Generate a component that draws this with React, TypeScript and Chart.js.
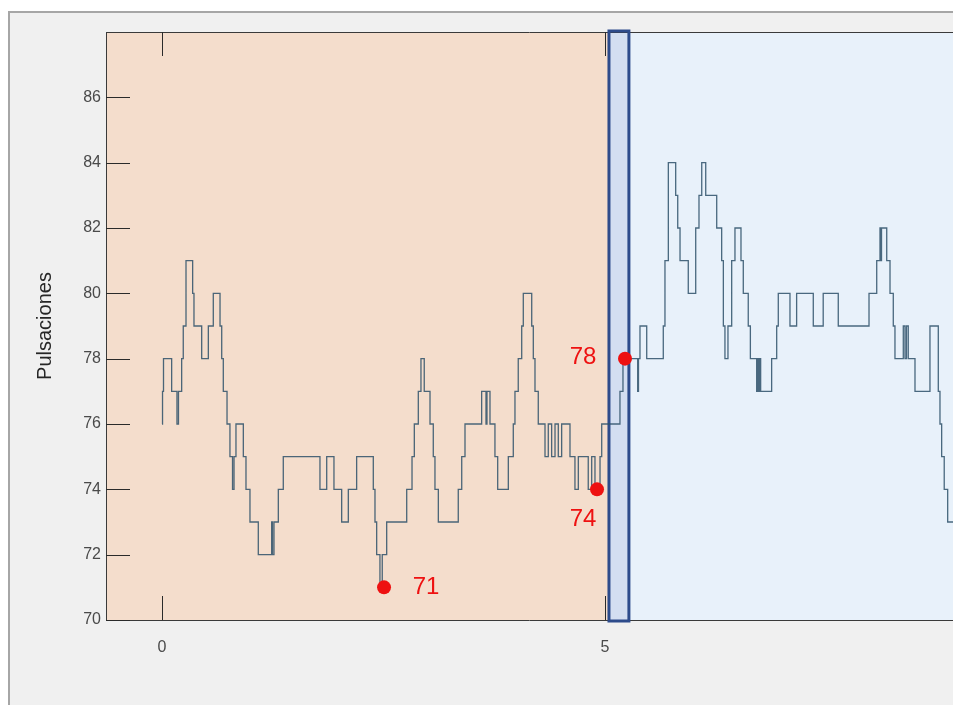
import React, { useEffect, useRef } from "react";
import { Chart, registerables } from "chart.js";

Chart.register(...registerables);

// Time (s) at which each new heart-rate level starts, and that level (bpm)
const stepTimes = [
  0, 0.006, 0.017, 0.109, 0.169, 0.186, 0.222, 0.24, 0.271, 0.346, 0.361, 0.448, 0.523, 0.579,
  0.655, 0.674, 0.692, 0.734, 0.767, 0.796, 0.813, 0.835, 0.918, 0.948, 0.993, 1.087, 1.238,
  1.247, 1.264, 1.313, 1.369, 1.783, 1.859, 1.941, 2.028, 2.103, 2.197, 2.385, 2.404, 2.423,
  2.46, 2.486, 2.536, 2.762, 2.822, 2.848, 2.893, 2.923, 2.96, 3.025, 3.062, 3.081, 3.119,
  3.344, 3.383, 3.42, 3.608, 3.657, 3.668, 3.702, 3.758, 3.789, 3.909, 3.965, 3.984, 4.021,
  4.06, 4.078, 4.173, 4.191, 4.21, 4.247, 4.323, 4.36, 4.398, 4.436, 4.473, 4.511, 4.605,
  4.661, 4.699, 4.811, 4.85, 4.887, 4.944, 4.963, 5.169, 5.203, 5.369, 5.378, 5.395, 5.471,
  5.658, 5.677, 5.715, 5.798, 5.821, 5.847, 5.94, 6.024, 6.061, 6.092, 6.137, 6.261, 6.317,
  6.336, 6.354, 6.388, 6.43, 6.467, 6.535, 6.561, 6.617, 6.641, 6.712, 6.723, 6.734, 6.745,
  6.757, 6.881, 6.938, 6.956, 7.088, 7.163, 7.351, 7.463, 7.633, 7.98, 8.067, 8.104, 8.112,
  8.121, 8.18, 8.217, 8.254, 8.273, 8.367, 8.386, 8.403, 8.423, 8.499, 8.668, 8.762, 8.781,
  8.8, 8.829, 8.868, 9.0,
];
const stepValues = [
  76, 77, 78, 77, 76, 77, 78, 79, 81, 80, 79, 78, 79, 80,
  79, 78, 77, 76, 75, 74, 75, 76, 75, 74, 73, 72, 73,
  72, 73, 74, 75, 74, 75, 74, 73, 74, 75, 74, 73, 72,
  71, 72, 73, 74, 75, 76, 77, 78, 77, 76, 75, 74, 73,
  74, 75, 76, 77, 76, 77, 76, 75, 74, 75, 76, 77, 78,
  79, 80, 79, 78, 77, 76, 75, 76, 75, 76, 75, 76, 75,
  74, 75, 74, 75, 74, 75, 76, 77, 78, 77, 78, 79, 78,
  79, 81, 84, 83, 82, 81, 80, 82, 83, 84, 83, 82, 81,
  79, 78, 79, 81, 82, 81, 80, 79, 78, 77, 78, 77, 78,
  77, 78, 79, 80, 79, 80, 79, 80, 79, 80, 81, 82, 81,
  82, 81, 80, 79, 78, 79, 78, 79, 78, 77, 79, 77, 76,
  75, 74, 73, 73,
];

// Highlighted readings
const markerTimes = [2.506, 4.91, 5.226];
const markerValues = [71, 74, 78];
const markerLabels = ["71", "74", "78"];

// Axes
const xTickValues = [0, 5];
const yTickValues = [70, 72, 74, 76, 78, 80, 82, 84, 86];
const xRange = [-0.632, 8.928];
const yRange = [70, 88];

// Shaded phases: before / transition window / after
const transitionWindow = [5.045, 5.27];

const yTitle = "Pulsaciones";

const COLORS = {
  figure: "#f0f0f0",
  figureEdge: "#a6a6a6",
  before: "#f4ddcc",
  after: "#e8f1fa",
  windowFill: "#d3def1",
  windowEdge: "#2d4b8b",
  axis: "#3a3a3a",
  line: "rgba(45,80,105,0.85)",
  marker: "#ee1111",
};

const labelOffsets = [
  { dx: 42, dy: 0 },
  { dx: -14, dy: 30 },
  { dx: -42, dy: -1 },
];

export default function App() {
  const ref = useRef<HTMLCanvasElement | null>(null);

  useEffect(() => {
    const canvas = ref.current;
    if (!canvas) return;

    const decor = {
      id: "decor",
      beforeDraw(chart: any) {
        const { ctx, width, height, chartArea } = chart;
        const xs = chart.scales.x;
        ctx.save();
        ctx.fillStyle = "#ffffff";
        ctx.fillRect(0, 0, width, height);
        ctx.fillStyle = COLORS.figure;
        ctx.fillRect(9, 12, width - 9, height - 12);
        ctx.strokeStyle = COLORS.figureEdge;
        ctx.lineWidth = 2;
        ctx.beginPath();
        ctx.moveTo(9, height);
        ctx.lineTo(9, 12);
        ctx.lineTo(width, 12);
        ctx.stroke();

        const { left, right, top, bottom } = chartArea;
        const a = xs.getPixelForValue(transitionWindow[0]);
        const b = xs.getPixelForValue(transitionWindow[1]);
        ctx.fillStyle = COLORS.before;
        ctx.fillRect(left, top, a - left, bottom - top);
        ctx.fillStyle = COLORS.windowFill;
        ctx.fillRect(a, top, b - a, bottom - top);
        ctx.fillStyle = COLORS.after;
        ctx.fillRect(b, top, right - b, bottom - top);
        ctx.restore();
      },
      beforeDatasetsDraw(chart: any) {
        const { ctx, chartArea } = chart;
        const xs = chart.scales.x;
        const ys = chart.scales.y;
        const { left, right, top, bottom } = chartArea;
        ctx.save();
        ctx.strokeStyle = COLORS.axis;
        ctx.lineWidth = 1;
        ctx.beginPath();
        ctx.moveTo(left + 0.5, top);
        ctx.lineTo(left + 0.5, bottom);
        ctx.moveTo(left, bottom + 0.5);
        ctx.lineTo(right, bottom + 0.5);
        ctx.moveTo(left, top + 0.5);
        ctx.lineTo(right, top + 0.5);
        ctx.stroke();
        ctx.strokeStyle = "#2a2a2a";
        ctx.beginPath();
        yTickValues.forEach((v) => {
          const y = Math.round(ys.getPixelForValue(v)) + 0.5;
          ctx.moveTo(left, y);
          ctx.lineTo(left + 24, y);
        });
        xTickValues.forEach((v) => {
          const x = Math.round(xs.getPixelForValue(v)) + 0.5;
          ctx.moveTo(x, bottom);
          ctx.lineTo(x, bottom - 24);
          ctx.moveTo(x, top);
          ctx.lineTo(x, top + 24);
        });
        ctx.stroke();
        const a = xs.getPixelForValue(transitionWindow[0]);
        const b = xs.getPixelForValue(transitionWindow[1]);
        ctx.strokeStyle = COLORS.windowEdge;
        ctx.lineWidth = 3;
        ctx.strokeRect(a, top - 1, b - a, bottom - top + 2);
        ctx.restore();
      },
      afterDatasetsDraw(chart: any) {
        const { ctx } = chart;
        const meta = chart.getDatasetMeta(0);
        ctx.save();
        ctx.fillStyle = COLORS.marker;
        ctx.font = '24px "Liberation Sans", Arial, sans-serif';
        ctx.textAlign = "center";
        ctx.textBaseline = "middle";
        meta.data.forEach((pt: any, i: number) => {
          const o = labelOffsets[i];
          ctx.fillText(markerLabels[i], pt.x + o.dx, pt.y + o.dy);
        });
        ctx.restore();
      },
    };

    const chart = new Chart(canvas, {
      type: "line",
      data: {
        datasets: [
          {
            type: "scatter",
            label: "marcas",
            data: markerTimes.map((t, i) => ({ x: t, y: markerValues[i] })),
            pointRadius: 7,
            pointHoverRadius: 7,
            pointBackgroundColor: COLORS.marker,
            pointBorderWidth: 0,
            showLine: false,
            order: 0,
          } as any,
          {
            type: "line",
            label: "Pulsaciones",
            data: stepTimes.map((t, i) => ({ x: t, y: stepValues[i] })),
            stepped: "before",
            borderColor: COLORS.line,
            borderWidth: 1.3,
            pointRadius: 0,
            fill: false,
            order: 1,
          } as any,
        ],
      },
      options: {
        responsive: false,
        animation: false,
        events: [],
        layout: { autoPadding: false, padding: { top: 32, left: 0, right: 0, bottom: 0 } },
        plugins: {
          legend: { display: false },
          tooltip: { enabled: false },
        },
        scales: {
          x: {
            type: "linear",
            min: xRange[0],
            max: xRange[1],
            grid: { display: false, drawTicks: false },
            border: { display: false },
            afterBuildTicks: (s: any) => {
              s.ticks = xTickValues.map((v) => ({ value: v }));
            },
            afterFit: (s: any) => {
              s.height = 85;
            },
            ticks: {
              padding: 18,
              color: "#4a4a4a",
              font: { family: '"Liberation Sans", Arial, sans-serif', size: 16 },
              callback: (v: any) => String(v),
            },
          },
          y: {
            type: "linear",
            min: yRange[0],
            max: yRange[1],
            grid: { display: false, drawTicks: false },
            border: { display: false },
            afterBuildTicks: (s: any) => {
              s.ticks = yTickValues.map((v) => ({ value: v }));
            },
            afterFit: (s: any) => {
              s.width = 106;
            },
            ticks: {
              padding: 5,
              color: "#4a4a4a",
              font: { family: '"Liberation Sans", Arial, sans-serif', size: 16 },
              callback: (v: any) => String(v),
            },
            title: {
              display: true,
              text: yTitle,
              color: "#262626",
              font: { family: '"Liberation Sans", Arial, sans-serif', size: 20 },
              padding: { top: 33, bottom: 0 },
            },
          },
        },
      },
      plugins: [decor],
    });

    return () => chart.destroy();
  }, []);

  return (
    <canvas
      ref={ref}
      width={953}
      height={705}
      style={{ position: "fixed", left: 0, top: 0, width: 953, height: 705, display: "block" }}
    />
  );
}
